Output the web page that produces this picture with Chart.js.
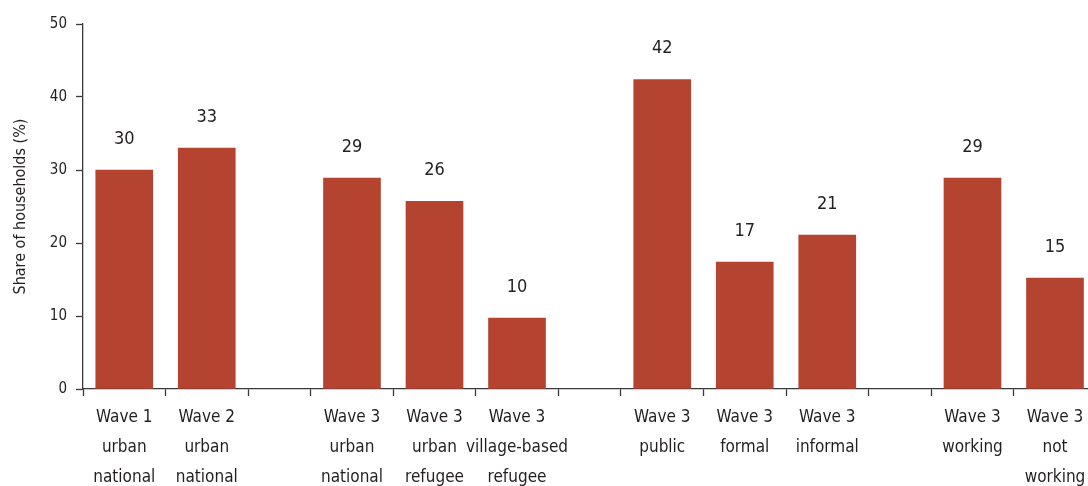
<!DOCTYPE html>
<html>
<head>
<meta charset="utf-8">
<script src="https://cdn.jsdelivr.net/npm/chart.js@4.4.1/dist/chart.umd.min.js"></script>
<style>
  html, body { margin: 0; padding: 0; background: #fff; }
  #wrap { width: 1088px; height: 486px; }
</style>
</head>
<body>
<div id="wrap"><canvas id="barchart"></canvas></div>
<script>
// categories, one multi-line label each
const categories = [
  ['Wave 1', 'urban', 'national'],
  ['Wave 2', 'urban', 'national'],
  ['Wave 3', 'urban', 'national'],
  ['Wave 3', 'urban', 'refugee'],
  ['Wave 3', 'village-based', 'refugee'],
  ['Wave 3', 'public'],
  ['Wave 3', 'formal'],
  ['Wave 3', 'informal'],
  ['Wave 3', 'working'],
  ['Wave 3', 'not', 'working']
];
// which block each category belongs to (blocks separated by an empty gap)
const blocks = [0, 0, 1, 1, 1, 2, 2, 2, 3, 3];
const shares = [30.0, 33.0, 28.9, 25.7, 9.7, 42.4, 17.4, 21.1, 28.9, 15.2];
const yTicks = [0, 10, 20, 30, 40, 50];

const FONT = "'DejaVu Sans Condensed', 'Liberation Sans Narrow', sans-serif";
const INK = '#231f20';
const BAR = '#b44330';
const GAP = 0.76;   // gap width relative to a category slot
const CROP = 0.1;   // the last slot runs a little past the right edge of the picture

const xPos = categories.map((c, i) => i + blocks[i] * GAP);
const centers = new Set(xPos);
const edges = [];
xPos.forEach(x => {
  [x - 0.5, x + 0.5].forEach(e => {
    if (!edges.some(v => Math.abs(v - e) < 1e-6)) edges.push(e);
  });
});
const xMin = xPos[0] - 0.5;
const xMax = xPos[xPos.length - 1] + 0.5 - CROP;
const tickVals = edges.concat(xPos).filter(v => v <= xMax).sort((a, b) => a - b);

const ctx = document.getElementById('barchart');

const valueLabels = {
  id: 'valueLabels',
  afterDatasetsDraw(chart) {
    const c = chart.ctx;
    c.save();
    c.font = '18px ' + FONT;
    c.fillStyle = INK;
    c.textAlign = 'center';
    c.textBaseline = 'middle';
    chart.getDatasetMeta(0).data.forEach((bar, i) => {
      c.fillText(Math.round(shares[i]), bar.x, bar.y - 31);
    });
    c.restore();
  }
};

new Chart(ctx, {
  type: 'bar',
  data: {
    datasets: [{
      data: xPos.map((x, i) => ({ x: x, y: shares[i] })),
      backgroundColor: BAR,
      borderWidth: 0,
      barThickness: 57
    }]
  },
  options: {
    responsive: true,
    maintainAspectRatio: false,
    animation: false,
    events: [],
    layout: { padding: { top: 24, right: 0, left: 0, bottom: 0 } },
    plugins: { legend: { display: false }, tooltip: { enabled: false } },
    scales: {
      x: {
        type: 'linear',
        offset: false,
        min: xMin,
        max: xMax,
        afterBuildTicks: (scale) => { scale.ticks = tickVals.map(v => ({ value: v })); },
        afterFit: (scale) => {
          scale.height = 97;
          scale.paddingLeft = 0;
          scale.paddingRight = 0;
        },
        border: { display: true, color: '#3a3a3a', width: 1.3 },
        grid: {
          offset: false,
          drawOnChartArea: false,
          drawTicks: true,
          tickLength: 7,
          tickWidth: 1.3,
          tickColor: (c) => (c.tick && centers.has(c.tick.value)) ? 'rgba(0,0,0,0)' : '#3a3a3a'
        },
        ticks: {
          autoSkip: false,
          maxRotation: 0,
          minRotation: 0,
          padding: 7,
          color: INK,
          font: { family: FONT, size: 17, lineHeight: 1.76 },
          callback: (value) => {
            const i = xPos.indexOf(value);
            return i >= 0 ? categories[i] : '';
          }
        }
      },
      y: {
        min: 0,
        max: 50,
        afterBuildTicks: (scale) => { scale.ticks = yTicks.map(v => ({ value: v })); },
        afterFit: (scale) => { scale.width = 83; },
        border: { display: true, color: '#3a3a3a', width: 1.3 },
        grid: { drawOnChartArea: false, drawTicks: true, tickLength: 7, tickWidth: 1.3, tickColor: '#3a3a3a' },
        ticks: {
          padding: 9,
          color: INK,
          font: { family: FONT, size: 15 }
        },
        title: {
          display: true,
          text: 'Share of households (%)',
          color: INK,
          padding: { top: 11, bottom: 0 },
          font: { family: FONT, size: 16 }
        }
      }
    }
  },
  plugins: [valueLabels]
});
</script>
</body>
</html>
